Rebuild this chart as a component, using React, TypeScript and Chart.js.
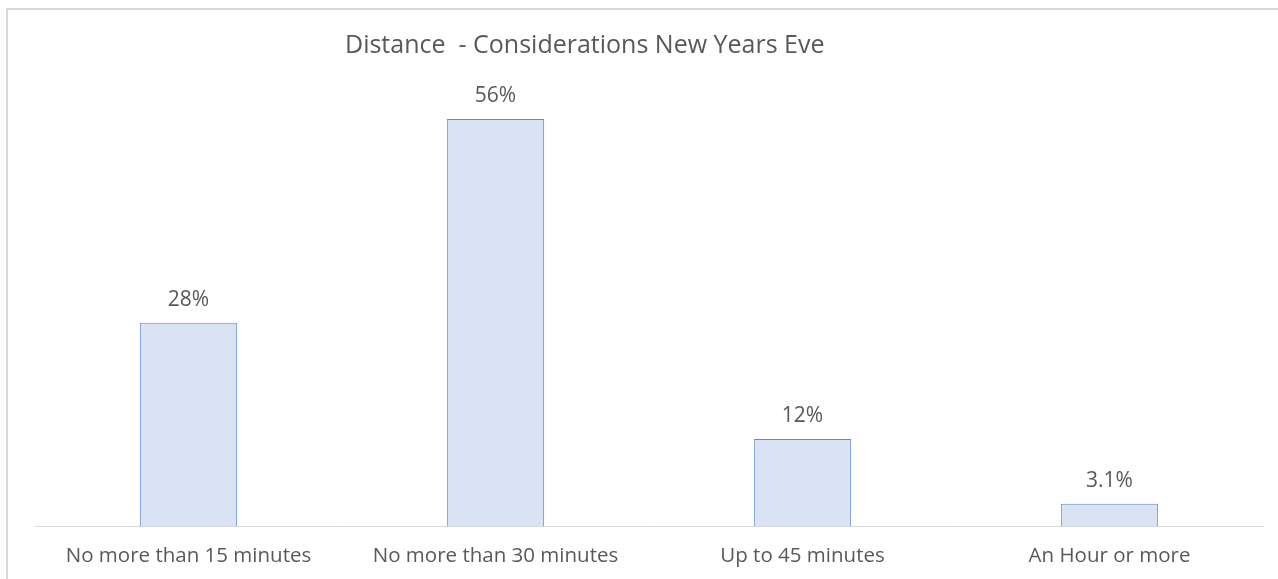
import React, { useEffect, useRef } from "react";
import { Chart, registerables } from "chart.js";

Chart.register(...registerables);

const categories = [
  "No more than 15 minutes",
  "No more than 30 minutes",
  "Up to 45 minutes",
  "An Hour or more",
];
const values = [28, 56, 12, 3.1];
const valueLabels = ["28%", "56%", "12%", "3.1%"];
const chartTitle = "Distance  - Considerations New Years Eve";

const FONT = "'Open Sans', sans-serif";
const TEXT = "#595959";

const framePlugin = {
  id: "frame",
  beforeDraw(chart: any) {
    const ctx = chart.ctx;
    ctx.save();
    ctx.fillStyle = "#ffffff";
    ctx.fillRect(0, 0, chart.width, chart.height);
    ctx.strokeStyle = "#d9d9d9";
    ctx.lineWidth = 2;
    ctx.strokeRect(7, 9, chart.width + 20, chart.height + 20);
    ctx.restore();
  },
};

const titlePlugin = {
  id: "customTitle",
  afterDraw(chart: any) {
    const ctx = chart.ctx;
    ctx.save();
    ctx.font = `25px ${FONT}`;
    ctx.fillStyle = TEXT;
    ctx.textAlign = "left";
    ctx.textBaseline = "middle";
    ctx.fillText(chartTitle, 345, 46);
    ctx.restore();
  },
};

const valueLabelPlugin = {
  id: "valueLabels",
  afterDatasetsDraw(chart: any) {
    const ctx = chart.ctx;
    const meta = chart.getDatasetMeta(0);
    ctx.save();
    ctx.font = `21px ${FONT}`;
    ctx.fillStyle = TEXT;
    ctx.textAlign = "center";
    ctx.textBaseline = "middle";
    meta.data.forEach((bar: any, i: number) => {
      ctx.fillText(valueLabels[i], bar.x, bar.y - 23);
    });
    ctx.restore();
  },
};

export default function App() {
  const ref = useRef<HTMLCanvasElement | null>(null);
  useEffect(() => {
    if (!ref.current) return;
    const chart = new Chart(ref.current, {
      type: "bar",
      data: {
        labels: categories,
        datasets: [
          {
            data: values,
            backgroundColor: "#dae3f3",
            borderColor: "#5b8dd3",
            borderWidth: 1,
            barPercentage: 0.634,
            categoryPercentage: 0.5,
          },
        ],
      },
      options: {
        animation: false,
        responsive: false,
        maintainAspectRatio: false,
        layout: { padding: { left: 35, right: 15, top: 90, bottom: 15 } },
        plugins: {
          legend: { display: false },
          title: { display: false },
          tooltip: { enabled: false },
        },
        scales: {
          x: {
            grid: { display: false, drawTicks: false },
            border: { display: true, color: "#d9d9d9", width: 1 },
            ticks: {
              color: TEXT,
              font: { family: FONT, size: 20.5 },
              padding: 17,
              maxRotation: 0,
              autoSkip: false,
            },
          },
          y: {
            display: false,
            min: 0,
            max: 60,
          },
        },
      },
      plugins: [framePlugin, titlePlugin, valueLabelPlugin],
    });
    return () => chart.destroy();
  }, []);
  return (
    <div style={{ position: "fixed", left: 0, top: 0, width: 1278, height: 579, overflow: "hidden" }}>
      <canvas ref={ref} width={1278} height={600} style={{ display: "block" }} />
    </div>
  );
}
